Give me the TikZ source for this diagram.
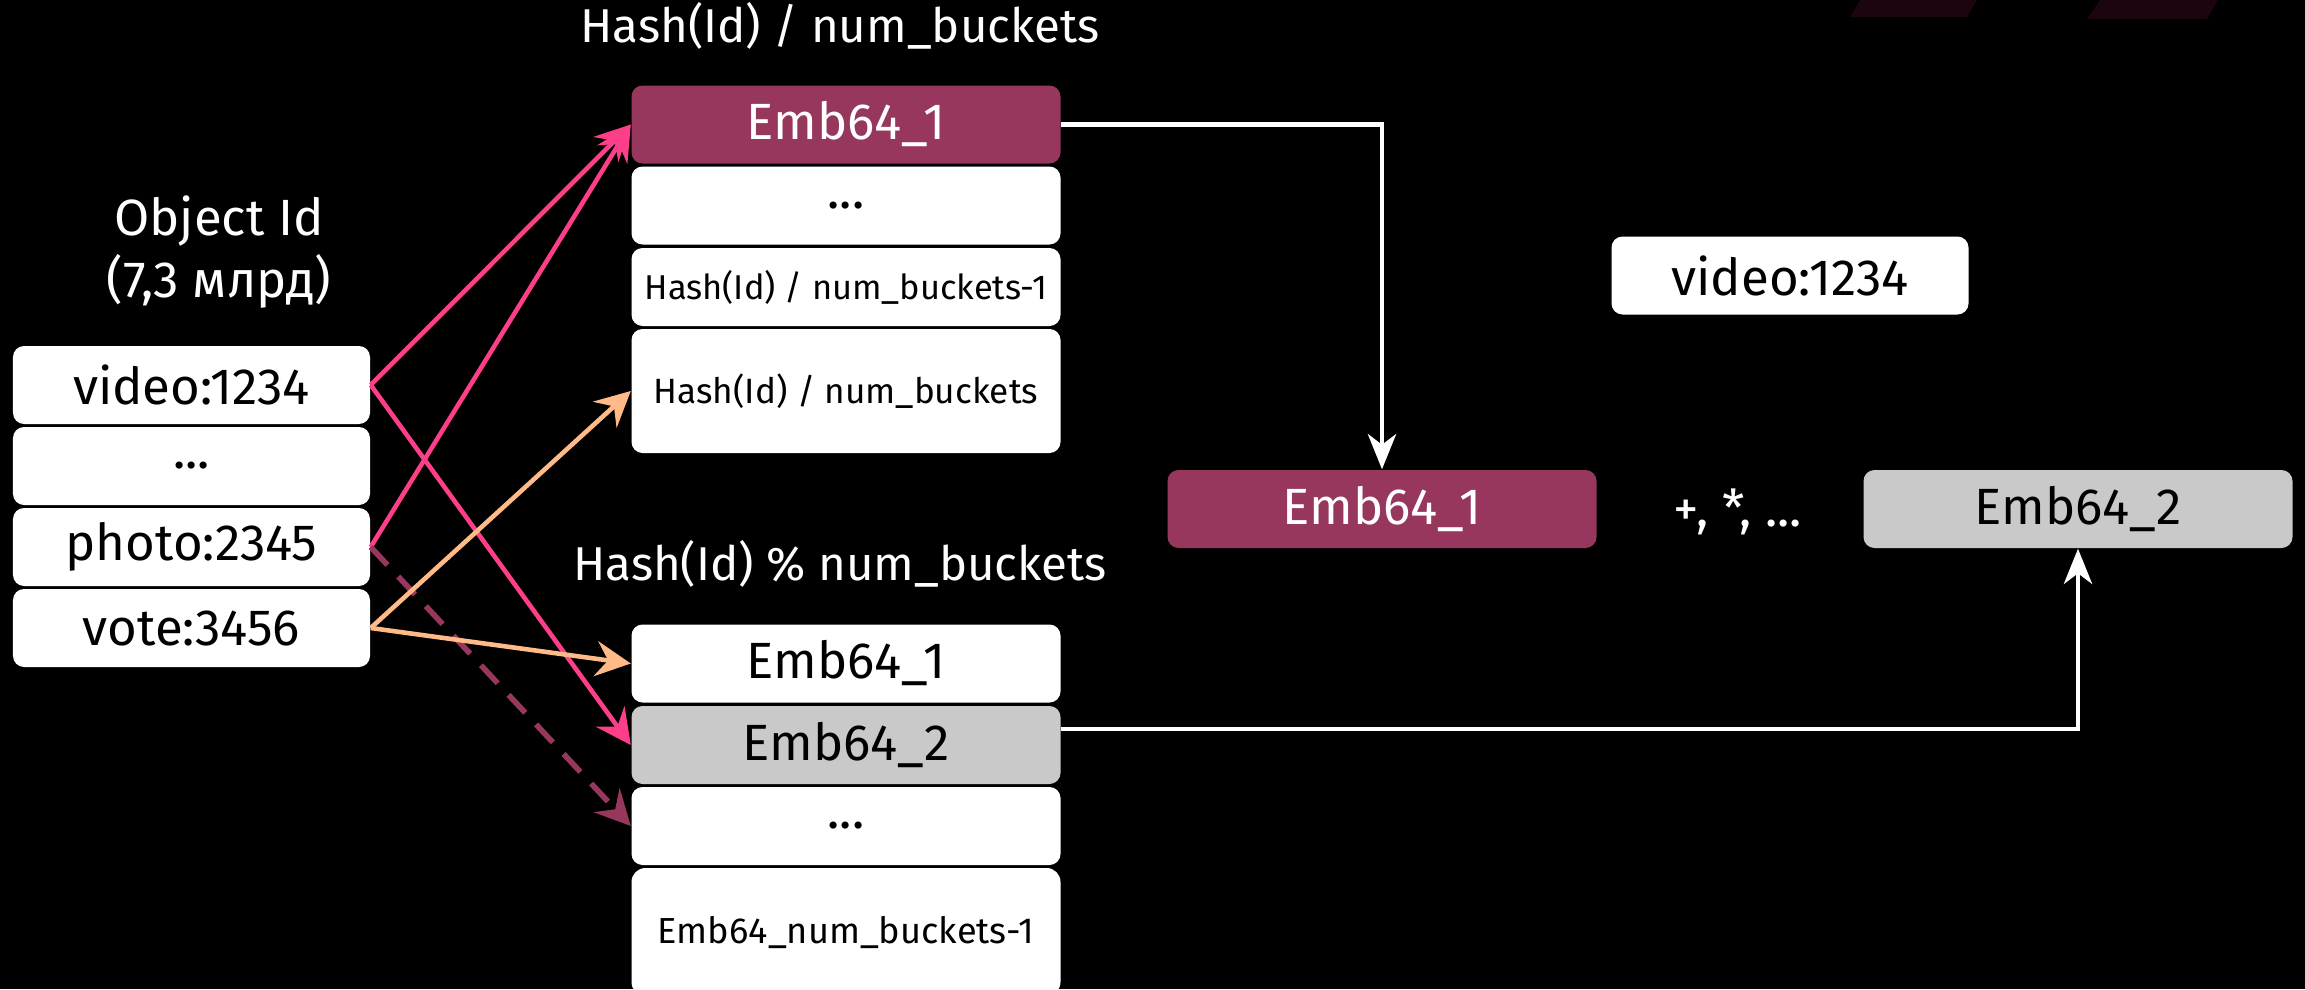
\documentclass[tikz,border=0pt]{standalone}
\usepackage{fontspec}
\setmainfont{Fira Sans}
\usetikzlibrary{arrows.meta}

\definecolor{embred}{HTML}{97375E}
\definecolor{embgray}{HTML}{C9C9C9}
\definecolor{linkpink}{HTML}{FF3E8A}
\definecolor{linkpeach}{HTML}{FFBA88}
\definecolor{faintred}{HTML}{1C0510}

\newcommand\bigtxt{\fontsize{14.5}{17}\selectfont}
\newcommand\midtxt{\fontsize{10}{12}\selectfont}
\newcommand\smalltxt{\fontsize{9.8}{12}\selectfont}

\tikzset{
  cell/.style={rectangle, fill=white, text=black, rounded corners=0.11cm,
    inner sep=0pt, minimum height=0.78cm, font=\bigtxt},
  idcell/.style={cell, minimum width=3.57cm},
  tabcell/.style={cell, minimum width=4.29cm},
  title/.style={text=white, font=\fontsize{13.5}{17}\selectfont, align=center},
  link/.style={line width=1.3pt, -{Stealth[length=10pt,width=10pt,inset=3.5pt]}},
  wlink/.style={white, line width=1.4pt, -{Stealth[length=10pt,width=8pt,inset=3pt]}},
}

\begin{document}
\begin{tikzpicture}
  \clip (0,0) rectangle (23.05,9.89);
  \fill[black] (0,0) rectangle (23.05,9.89);
  \fill[faintred] (18.60,9.89) -- (19.77,9.89) -- (19.67,9.72) -- (18.50,9.72) -- cycle;
  \fill[faintred] (21.00,9.89) -- (22.18,9.89) -- (22.07,9.70) -- (20.87,9.70) -- cycle;

  % object ids
  \node[title, font=\fontsize{14.5}{17.5}\selectfont] (ids) at (2.19,7.37) {Object Id\\(7,3 млрд)};
  \node[idcell] (v) at (1.915,6.04) {video:1234};
  \node[idcell] (d) at (1.915,5.23) {...};
  \node[idcell] (p) at (1.915,4.42) {photo:2345};
  \node[idcell] (w) at (1.915,3.61) {vote:3456};

  % first table
  \node[title] (ttop) at (8.40,9.63) {Hash(Id) / num\_buckets};
  \node[tabcell, fill=embred, text=white] (t1) at (8.46,8.645) {Emb64\_1};
  \node[tabcell] (t2) at (8.46,7.835) {...};
  \node[tabcell, font=\smalltxt] (t3) at (8.46,7.02) {Hash(Id) / num\_buckets-1};
  \node[tabcell, minimum height=1.24cm, font=\midtxt] (t4) at (8.46,5.98) {Hash(Id) / num\_buckets};

  % second table
  \node[title] (btop) at (8.40,4.25) {Hash(Id) \% num\_buckets};
  \node[tabcell] (b1) at (8.46,3.255) {Emb64\_1};
  \node[tabcell, fill=embgray] (b2) at (8.46,2.44) {Emb64\_2};
  \node[tabcell] (b3) at (8.46,1.63) {...};
  \node[tabcell, minimum height=1.28cm, rounded corners=0.14cm, font=\fontsize{10.3}{12}\selectfont] (b4) at (8.46,0.57) {Emb64\_num\_buckets-1};

  % result
  \node[idcell] (key) at (17.90,7.135) {video:1234};
  \node[tabcell, fill=embred, text=white] (r1) at (13.82,4.80) {Emb64\_1};
  \node[title, font=\bigtxt] (op) at (17.38,4.77) {+, *, ...};
  \node[tabcell, fill=embgray] (r2) at (20.78,4.80) {Emb64\_2};

  \draw[link, linkpink] (v.east) -- (t1.west);
  \draw[link, linkpink] (v.east) -- (b2.west);
  \draw[link, linkpink] (p.east) -- (t1.west);
  \draw[link, embred, line width=1.6pt, dash pattern=on 7pt off 4.5pt] (p.east) -- (b3.west);
  \draw[link, linkpeach] (w.east) -- (t4.west);
  \draw[link, linkpeach] (w.east) -- (b1.west);

  \draw[wlink] (t1.east) -| (r1.north);
  \draw[wlink] ([yshift=0.16cm]b2.east) -| (r2.south);
\end{tikzpicture}
\end{document}
